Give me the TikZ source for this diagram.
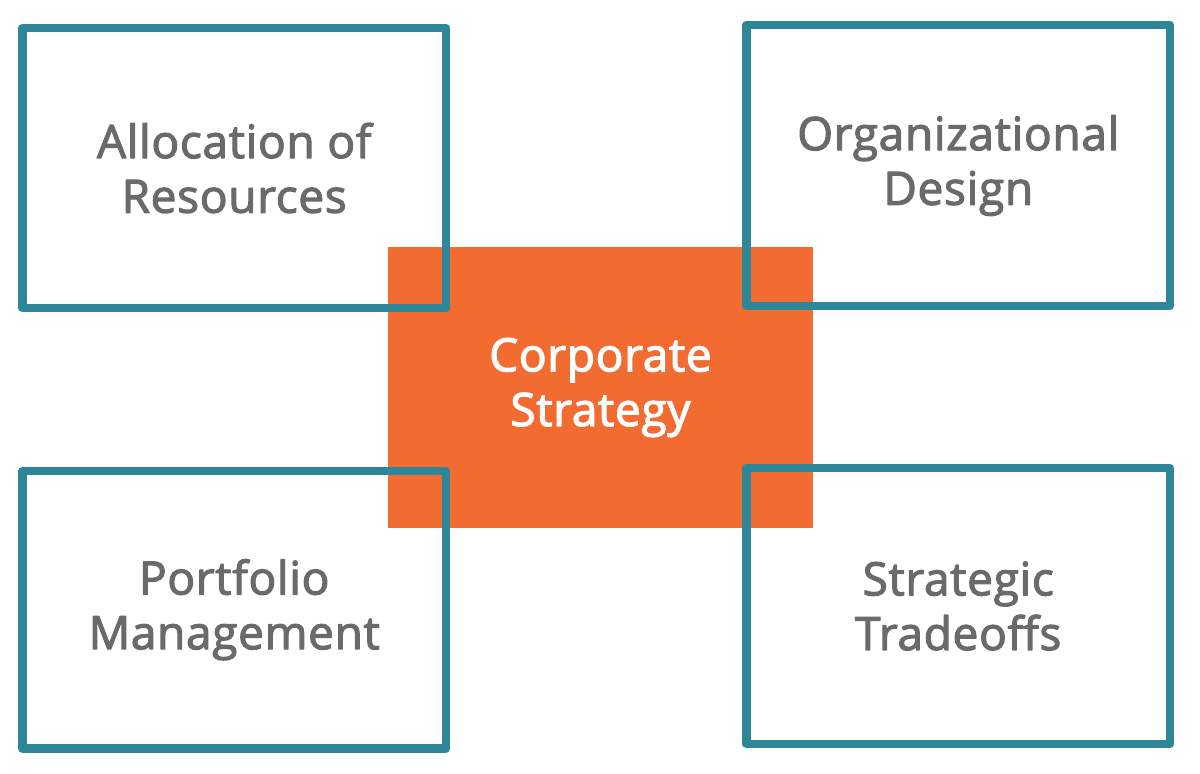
\documentclass[tikz,border=0pt]{standalone}
\usepackage{fontspec}
\setmainfont{Open Sans}
\newfontfamily\semifont{Open Sans}[FakeBold=2.5, LetterSpace=1.5]

\definecolor{boxteal}{HTML}{2E8799}
\definecolor{stratorange}{HTML}{F26B31}
\definecolor{labelgray}{HTML}{6A6A6A}

\tikzset{every picture/.style={line width=0.75pt}}
\tikzset{
	areabox/.style={draw=boxteal, line width=6.4pt, line join=round, inner sep=0pt,
		minimum width=317.6pt, align=center, text=labelgray,
		font=\semifont\fontsize{34.5pt}{41pt}\selectfont},
	corebox/.style={fill=stratorange, inner sep=0pt, minimum width=318.75pt,
		minimum height=210.75pt, align=center, text=white,
		font=\semifont\fontsize{34.5pt}{41pt}\selectfont}
}

\begin{document}
\begin{tikzpicture}[x=0.75pt,y=0.75pt,yscale=-1,xscale=1]
	\useasboundingbox (0,0) rectangle (1200,774);
	
	% Centre block
	\node [corebox] (strategy) at (600.5,387.5) {Corporate\\Strategy};
	
	% Outer boxes
	\node [areabox, minimum height=210pt] (resources) at (234.25,168) {Allocation of\\Resources};
	\node [areabox, minimum height=210.75pt] (design) at (958.25,165.5) {Organizational\\Design};
	\node [areabox, minimum height=208pt] (portfolio) at (234.25,609.75) {Portfolio\\Management};
	\node [areabox, minimum height=207pt] (tradeoffs) at (958.25,606) {Strategic\\Tradeoffs};
	
\end{tikzpicture}
\end{document}
